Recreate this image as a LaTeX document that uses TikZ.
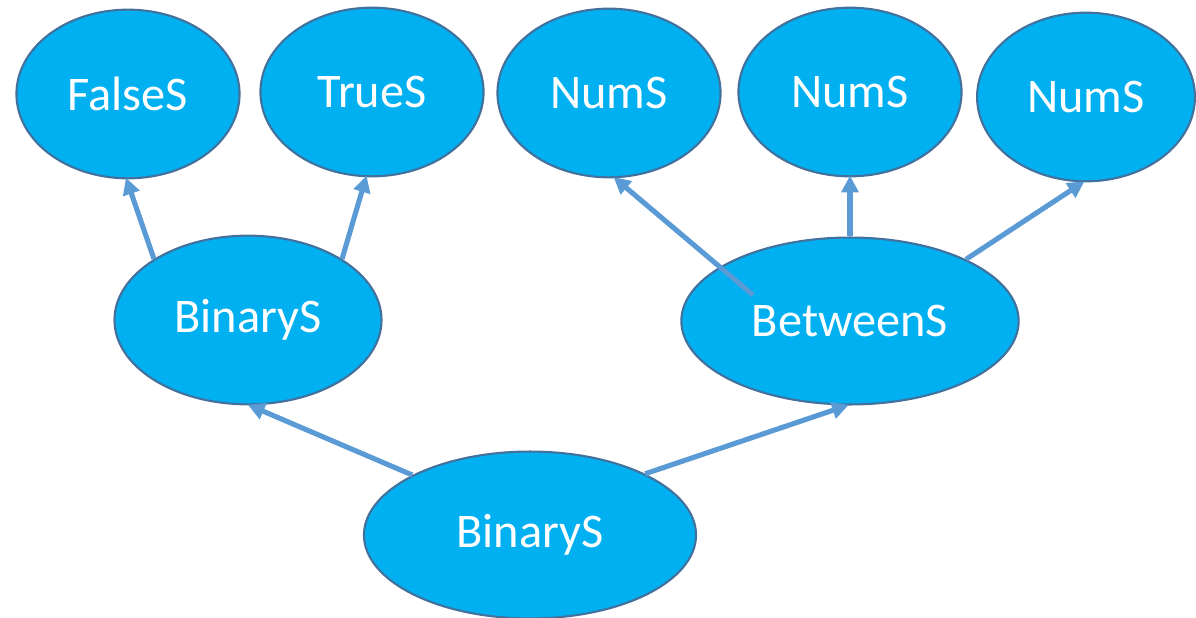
\documentclass[tikz,border=0pt]{standalone}
\usepackage{fontspec}
\setmainfont{Carlito}
\usetikzlibrary{shapes.geometric,arrows.meta}
\definecolor{nodefill}{HTML}{00B0F0}
\definecolor{nodeline}{HTML}{41719C}
\definecolor{edgecol}{HTML}{5B9BD5}
\tikzset{
  term/.style={ellipse, draw=nodeline, line width=1.2pt, fill=nodefill,
    inner sep=0pt, text=white, font=\fontsize{27.5}{32}\selectfont},
  small/.style={term, minimum width=127pt, minimum height=96pt},
  wide/.style={term, minimum width=152pt, minimum height=96pt},
  wider/.style={term, minimum width=192pt, minimum height=95pt},
  edge/.style={draw=edgecol, line width=2.9pt,
    -{Triangle[length=9.5pt,width=9.5pt]}, shorten >=-1pt}
}
\begin{document}
\begin{tikzpicture}[x=0.02cm,y=-0.02cm]
\useasboundingbox (0,0) rectangle (1196,618);
% leaves
\node[small] (f)  at (128,94)  {FalseS};
\node[small] (t)  at (372,92)  {TrueS};
\node[small] (n1) at (609,93)  {NumS};
\node[small] (n2) at (850,92)  {NumS};
\node[small, minimum width=124pt] (n3) at (1086,97) {NumS};
% inner nodes
\node[wide]  (bl) at (248,320) {BinaryS};
\node[wider] (bt) at (850,321) {BetweenS};
\node[wider, minimum width=189pt] (bb) at (530,535) {BinaryS};
% start point of the long edge, inside BetweenS
\coordinate (btin) at (753,295);
% edges
\draw[edge] (bl.147) -- (f.269);
\draw[edge] (bl.33)  -- (t.266);
\draw[edge] (btin)   -- (n1.274);
\draw[edge] (bt.north) -- (n2.south);
\draw[edge] (bt.28)  -- (n3.268);
\draw[edge] (bb.153) -- (bl.271);
\draw[edge] (bb.28)  -- (bt.268);
\end{tikzpicture}
\end{document}
